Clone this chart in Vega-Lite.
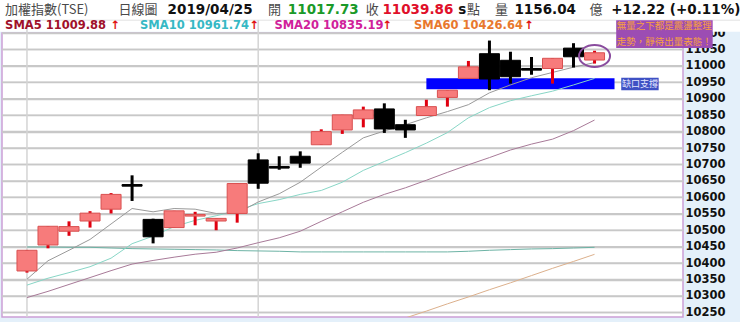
{
  "$schema": "https://vega.github.io/schema/vega-lite/v6.json",
  "width": 681,
  "height": 284,
  "autosize": {"type": "none"},
  "padding": {"left": 2, "top": 33, "right": 57, "bottom": 5},
  "background": "#e4f0fa",
  "config": {
    "view": {"stroke": "#cc9fd6", "strokeWidth": 1.5, "fill": "#ffffff"},
    "axisY": {"grid": true, "gridColor": "#c8c8c8", "gridWidth": 1.5, "gridOpacity": 1, "ticks": false, "domain": false, "labelFont": "DejaVu Sans", "labelFontWeight": "bold", "labelFontSize": 11.5, "labelColor": "#111111", "labelPadding": 2, "labelAlign": "left", "labelBaseline": "middle", "labelOverlap": false, "labelFlush": false, "labelBound": false, "labelSeparation": 0}
  },
  "datasets": {
    "kline": [
      {"i": 1, "open": 10376, "high": 10439, "low": 10371, "close": 10439, "sma5": 10351, "sma10": 10333, "sma20": 10295, "sma60": null, "malong": 10449},
      {"i": 2, "open": 10455, "high": 10512, "low": 10445, "close": 10512, "sma5": 10407, "sma10": 10354, "sma20": 10314, "sma60": null, "malong": 10449},
      {"i": 3, "open": 10497, "high": 10527, "low": 10483, "close": 10511, "sma5": 10439, "sma10": 10371, "sma20": 10335, "sma60": null, "malong": 10448},
      {"i": 4, "open": 10528, "high": 10558, "low": 10508, "close": 10552, "sma5": 10472, "sma10": 10389, "sma20": 10356, "sma60": null, "malong": 10448},
      {"i": 5, "open": 10564, "high": 10613, "low": 10551, "close": 10609, "sma5": 10519, "sma10": 10415, "sma20": 10377, "sma60": null, "malong": 10446},
      {"i": 6, "open": 10639, "high": 10667, "low": 10589, "close": 10634, "sma5": 10566, "sma10": 10459, "sma20": 10397, "sma60": null, "malong": 10444},
      {"i": 7, "open": 10533, "high": 10535, "low": 10460, "close": 10480, "sma5": 10556, "sma10": 10482, "sma20": 10408, "sma60": null, "malong": 10443},
      {"i": 8, "open": 10508, "high": 10559, "low": 10508, "close": 10559, "sma5": 10566, "sma10": 10511, "sma20": 10418, "sma60": null, "malong": 10442},
      {"i": 9, "open": 10543, "high": 10556, "low": 10515, "close": 10548, "sma5": 10564, "sma10": 10530, "sma20": 10427, "sma60": null, "malong": 10441},
      {"i": 10, "open": 10528, "high": 10536, "low": 10500, "close": 10536, "sma5": 10551, "sma10": 10544, "sma20": 10433, "sma60": null, "malong": 10440},
      {"i": 11, "open": 10551, "high": 10642, "low": 10523, "close": 10642, "sma5": 10552, "sma10": 10560, "sma20": 10446, "sma60": null, "malong": 10438},
      {"i": 12, "open": 10714, "high": 10734, "low": 10626, "close": 10643, "sma5": 10586, "sma10": 10581, "sma20": 10462, "sma60": null, "malong": 10437},
      {"i": 13, "open": 10694, "high": 10725, "low": 10684, "close": 10689, "sma5": 10611, "sma10": 10593, "sma20": 10477, "sma60": null, "malong": 10436},
      {"i": 14, "open": 10725, "high": 10740, "low": 10690, "close": 10704, "sma5": 10646, "sma10": 10609, "sma20": 10497, "sma60": null, "malong": 10434},
      {"i": 15, "open": 10760, "high": 10807, "low": 10760, "close": 10800, "sma5": 10692, "sma10": 10621, "sma20": 10527, "sma60": null, "malong": 10434},
      {"i": 16, "open": 10805, "high": 10851, "low": 10793, "close": 10851, "sma5": 10737, "sma10": 10646, "sma20": 10556, "sma60": null, "malong": 10434},
      {"i": 17, "open": 10839, "high": 10876, "low": 10813, "close": 10866, "sma5": 10781, "sma10": 10682, "sma20": 10585, "sma60": null, "malong": 10434},
      {"i": 18, "open": 10869, "high": 10886, "low": 10796, "close": 10808, "sma5": 10802, "sma10": 10709, "sma20": 10609, "sma60": 10212, "malong": 10434},
      {"i": 19, "open": 10821, "high": 10836, "low": 10781, "close": 10805, "sma5": 10821, "sma10": 10736, "sma20": 10629, "sma60": 10233, "malong": 10434},
      {"i": 20, "open": 10849, "high": 10897, "low": 10849, "close": 10876, "sma5": 10842, "sma10": 10765, "sma20": 10652, "sma60": 10254, "malong": 10434},
      {"i": 21, "open": 10904, "high": 10926, "low": 10876, "close": 10926, "sma5": 10861, "sma10": 10797, "sma20": 10676, "sma60": 10276, "malong": 10434},
      {"i": 22, "open": 10962, "high": 11015, "low": 10962, "close": 10997, "sma5": 10882, "sma10": 10842, "sma20": 10699, "sma60": 10297, "malong": 10436},
      {"i": 23, "open": 11037, "high": 11077, "low": 10926, "close": 10960, "sma5": 10918, "sma10": 10873, "sma20": 10721, "sma60": 10319, "malong": 10439},
      {"i": 24, "open": 11017, "high": 11043, "low": 10946, "close": 10967, "sma5": 10942, "sma10": 10894, "sma20": 10744, "sma60": 10340, "malong": 10441},
      {"i": 25, "open": 10992, "high": 11027, "low": 10973, "close": 10987, "sma5": 10964, "sma10": 10909, "sma20": 10762, "sma60": 10362, "malong": 10443},
      {"i": 26, "open": 10992, "high": 11023, "low": 10946, "close": 11023, "sma5": 10980, "sma10": 10923, "sma20": 10777, "sma60": 10384, "malong": 10444},
      {"i": 27, "open": 11054, "high": 11069, "low": 10995, "close": 11027.64, "sma5": 10996, "sma10": 10942, "sma20": 10803, "sma60": 10405, "malong": 10446},
      {"i": 28, "open": 11017.73, "high": 11046, "low": 11007, "close": 11039.86, "sma5": 11009.88, "sma10": 10961.74, "sma20": 10835.19, "sma60": 10426.64, "malong": 10448}
    ],
    "months": [{"i": 1}, {"i": 12}],
    "levels": [{"level": 10250}, {"level": 10300}, {"level": 10350}, {"level": 10400}, {"level": 10450}, {"level": 10500}, {"level": 10550}, {"level": 10600}, {"level": 10650}, {"level": 10700}, {"level": 10750}, {"level": 10800}, {"level": 10850}, {"level": 10900}, {"level": 10950}, {"level": 11000}, {"level": 11050}, {"level": 11100}],
    "one": [{}]
  },
  "layer": [
    {
      "data": {"name": "one"},
      "mark": {"type": "rect", "fill": "#ffffff", "clip": false},
      "encoding": {
        "x": {"datum": -1, "type": "quantitative", "scale": {"domain": [0.05, 31.97], "nice": false, "zero": false}, "axis": null},
        "x2": {"datum": 40},
        "y": {"datum": 11104, "type": "quantitative", "scale": {"domain": [10236, 11100], "nice": false, "zero": false}, "axis": {"orient": "right", "title": null, "values": [10250, 10300, 10350, 10400, 10450, 10500, 10550, 10600, 10650, 10700, 10750, 10800, 10850, 10900, 10950, 11000, 11050, 11100], "format": "d", "grid": true, "labelOverlap": false}},
        "y2": {"datum": 11300}
      }
    },
    {
      "data": {"name": "one"},
      "mark": {"type": "rule", "stroke": "#e2e2e2", "strokeWidth": 1, "clip": false},
      "encoding": {
        "x": {"datum": 0.05, "type": "quantitative", "scale": {"domain": [0.05, 31.97], "nice": false, "zero": false}, "axis": null},
        "x2": {"datum": 40},
        "y": {"datum": 11139, "type": "quantitative", "scale": {"domain": [10236, 11100], "nice": false, "zero": false}, "axis": {"orient": "right", "title": null, "values": [10250, 10300, 10350, 10400, 10450, 10500, 10550, 10600, 10650, 10700, 10750, 10800, 10850, 10900, 10950, 11000, 11050, 11100], "format": "d", "grid": true, "labelOverlap": false}}
      }
    },
    {
      "data": {"name": "levels"},
      "mark": {"type": "rule", "color": "#c8c8c8", "strokeWidth": 1.5, "opacity": 1},
      "encoding": {
        "y": {"field": "level", "type": "quantitative", "scale": {"domain": [10236, 11100], "nice": false, "zero": false}, "axis": {"orient": "right", "title": null, "values": [10250, 10300, 10350, 10400, 10450, 10500, 10550, 10600, 10650, 10700, 10750, 10800, 10850, 10900, 10950, 11000, 11050, 11100], "format": "d", "grid": true, "labelOverlap": false}}
      }
    },
    {
      "data": {"name": "months"},
      "mark": {"type": "rule", "stroke": "#d4d4d4", "strokeWidth": 1.5, "clip": false},
      "encoding": {
        "x": {"field": "i", "type": "quantitative", "scale": {"domain": [0.05, 31.97], "nice": false, "zero": false}, "axis": null},
        "y": {"datum": 11139, "type": "quantitative", "scale": {"domain": [10236, 11100], "nice": false, "zero": false}, "axis": {"orient": "right", "title": null, "values": [10250, 10300, 10350, 10400, 10450, 10500, 10550, 10600, 10650, 10700, 10750, 10800, 10850, 10900, 10950, 11000, 11050, 11100], "format": "d", "grid": true, "labelOverlap": false}},
        "y2": {"datum": 10236}
      }
    },
    {
      "data": {"name": "one"},
      "mark": {"type": "rect", "fill": "#0000ff"},
      "encoding": {
        "x": {"datum": 20.0, "type": "quantitative", "scale": {"domain": [0.05, 31.97], "nice": false, "zero": false}, "axis": null},
        "x2": {"datum": 28.95},
        "y": {"datum": 10929, "type": "quantitative", "scale": {"domain": [10236, 11100], "nice": false, "zero": false}, "axis": {"orient": "right", "title": null, "values": [10250, 10300, 10350, 10400, 10450, 10500, 10550, 10600, 10650, 10700, 10750, 10800, 10850, 10900, 10950, 11000, 11050, 11100], "format": "d", "grid": true, "labelOverlap": false}},
        "y2": {"datum": 10962}
      }
    },
    {
      "data": {"name": "kline"},
      "mark": {"type": "line", "stroke": "#6db3a5", "strokeWidth": 1, "clip": true},
      "encoding": {
        "x": {"field": "i", "type": "quantitative", "scale": {"domain": [0.05, 31.97], "nice": false, "zero": false}, "axis": null},
        "y": {"field": "malong", "type": "quantitative", "scale": {"domain": [10236, 11100], "nice": false, "zero": false}, "axis": {"orient": "right", "title": null, "values": [10250, 10300, 10350, 10400, 10450, 10500, 10550, 10600, 10650, 10700, 10750, 10800, 10850, 10900, 10950, 11000, 11050, 11100], "format": "d", "grid": true, "labelOverlap": false}}
      }
    },
    {
      "data": {"name": "kline"},
      "mark": {"type": "line", "stroke": "#dcb08c", "strokeWidth": 1, "clip": true},
      "encoding": {
        "x": {"field": "i", "type": "quantitative", "scale": {"domain": [0.05, 31.97], "nice": false, "zero": false}, "axis": null},
        "y": {"field": "sma60", "type": "quantitative", "scale": {"domain": [10236, 11100], "nice": false, "zero": false}, "axis": {"orient": "right", "title": null, "values": [10250, 10300, 10350, 10400, 10450, 10500, 10550, 10600, 10650, 10700, 10750, 10800, 10850, 10900, 10950, 11000, 11050, 11100], "format": "d", "grid": true, "labelOverlap": false}}
      }
    },
    {
      "data": {"name": "kline"},
      "mark": {"type": "line", "stroke": "#a87a98", "strokeWidth": 1, "clip": true},
      "encoding": {
        "x": {"field": "i", "type": "quantitative", "scale": {"domain": [0.05, 31.97], "nice": false, "zero": false}, "axis": null},
        "y": {"field": "sma20", "type": "quantitative", "scale": {"domain": [10236, 11100], "nice": false, "zero": false}, "axis": {"orient": "right", "title": null, "values": [10250, 10300, 10350, 10400, 10450, 10500, 10550, 10600, 10650, 10700, 10750, 10800, 10850, 10900, 10950, 11000, 11050, 11100], "format": "d", "grid": true, "labelOverlap": false}}
      }
    },
    {
      "data": {"name": "kline"},
      "mark": {"type": "line", "stroke": "#88d6c6", "strokeWidth": 1, "clip": true},
      "encoding": {
        "x": {"field": "i", "type": "quantitative", "scale": {"domain": [0.05, 31.97], "nice": false, "zero": false}, "axis": null},
        "y": {"field": "sma10", "type": "quantitative", "scale": {"domain": [10236, 11100], "nice": false, "zero": false}, "axis": {"orient": "right", "title": null, "values": [10250, 10300, 10350, 10400, 10450, 10500, 10550, 10600, 10650, 10700, 10750, 10800, 10850, 10900, 10950, 11000, 11050, 11100], "format": "d", "grid": true, "labelOverlap": false}}
      }
    },
    {
      "data": {"name": "kline"},
      "mark": {"type": "line", "stroke": "#9a9a9a", "strokeWidth": 1, "clip": true},
      "encoding": {
        "x": {"field": "i", "type": "quantitative", "scale": {"domain": [0.05, 31.97], "nice": false, "zero": false}, "axis": null},
        "y": {"field": "sma5", "type": "quantitative", "scale": {"domain": [10236, 11100], "nice": false, "zero": false}, "axis": {"orient": "right", "title": null, "values": [10250, 10300, 10350, 10400, 10450, 10500, 10550, 10600, 10650, 10700, 10750, 10800, 10850, 10900, 10950, 11000, 11050, 11100], "format": "d", "grid": true, "labelOverlap": false}}
      }
    },
    {
      "data": {"name": "kline"},
      "mark": {"type": "rule", "strokeWidth": 3},
      "encoding": {
        "x": {"field": "i", "type": "quantitative", "scale": {"domain": [0.05, 31.97], "nice": false, "zero": false}, "axis": null},
        "y": {"field": "low", "type": "quantitative", "scale": {"domain": [10236, 11100], "nice": false, "zero": false}, "axis": {"orient": "right", "title": null, "values": [10250, 10300, 10350, 10400, 10450, 10500, 10550, 10600, 10650, 10700, 10750, 10800, 10850, 10900, 10950, 11000, 11050, 11100], "format": "d", "grid": true, "labelOverlap": false}},
        "y2": {"field": "high"},
        "color": {"condition": {"test": "datum.close > datum.open", "value": "#e00010"}, "value": "#000000"}
      }
    },
    {
      "data": {"name": "kline"},
      "mark": {"type": "bar", "size": 20, "strokeWidth": 1},
      "encoding": {
        "x": {"field": "i", "type": "quantitative", "scale": {"domain": [0.05, 31.97], "nice": false, "zero": false}, "axis": null},
        "y": {"field": "open", "type": "quantitative", "scale": {"domain": [10236, 11100], "nice": false, "zero": false}, "axis": {"orient": "right", "title": null, "values": [10250, 10300, 10350, 10400, 10450, 10500, 10550, 10600, 10650, 10700, 10750, 10800, 10850, 10900, 10950, 11000, 11050, 11100], "format": "d", "grid": true, "labelOverlap": false}},
        "y2": {"field": "close"},
        "fill": {"condition": {"test": "datum.close > datum.open", "value": "#f77b7b"}, "value": "#000000"},
        "stroke": {"condition": {"test": "datum.close > datum.open", "value": "#d95050"}, "value": "#000000"}
      }
    },
    {
      "data": {"name": "one"},
      "mark": {"type": "point", "shape": "M-1,0A1,0.71,0,1,1,1,0A1,0.71,0,1,1,-1,0Z", "size": 961, "filled": false, "stroke": "#8a4c9e", "strokeWidth": 2, "opacity": 1},
      "encoding": {
        "x": {"datum": 28, "type": "quantitative", "scale": {"domain": [0.05, 31.97], "nice": false, "zero": false}, "axis": null},
        "y": {"datum": 11030, "type": "quantitative", "scale": {"domain": [10236, 11100], "nice": false, "zero": false}, "axis": {"orient": "right", "title": null, "values": [10250, 10300, 10350, 10400, 10450, 10500, 10550, 10600, 10650, 10700, 10750, 10800, 10850, 10900, 10950, 11000, 11050, 11100], "format": "d", "grid": true, "labelOverlap": false}}
      }
    },
    {
      "data": {"name": "one"},
      "mark": {"type": "rect", "fill": "#9c4db3", "clip": false},
      "encoding": {
        "x": {"datum": 29.03, "type": "quantitative", "scale": {"domain": [0.05, 31.97], "nice": false, "zero": false}, "axis": null},
        "x2": {"datum": 33.62},
        "y": {"datum": 11054, "type": "quantitative", "scale": {"domain": [10236, 11100], "nice": false, "zero": false}, "axis": {"orient": "right", "title": null, "values": [10250, 10300, 10350, 10400, 10450, 10500, 10550, 10600, 10650, 10700, 10750, 10800, 10850, 10900, 10950, 11000, 11050, 11100], "format": "d", "grid": true, "labelOverlap": false}},
        "y2": {"datum": 11139}
      }
    },
    {
      "data": {"name": "one"},
      "mark": {"type": "text", "text": "無量之下都是震盪整理", "font": "Noto Sans CJK TC", "fontSize": 9.5, "color": "#f7a040", "align": "center", "baseline": "middle"},
      "encoding": {
        "x": {"datum": 31.32, "type": "quantitative", "scale": {"domain": [0.05, 31.97], "nice": false, "zero": false}, "axis": null},
        "y": {"datum": 11122, "type": "quantitative", "scale": {"domain": [10236, 11100], "nice": false, "zero": false}, "axis": {"orient": "right", "title": null, "values": [10250, 10300, 10350, 10400, 10450, 10500, 10550, 10600, 10650, 10700, 10750, 10800, 10850, 10900, 10950, 11000, 11050, 11100], "format": "d", "grid": true, "labelOverlap": false}}
      }
    },
    {
      "data": {"name": "one"},
      "mark": {"type": "text", "text": "走勢，靜待出量表態！", "font": "Noto Sans CJK TC", "fontSize": 9.5, "color": "#f7a040", "align": "center", "baseline": "middle"},
      "encoding": {
        "x": {"datum": 31.32, "type": "quantitative", "scale": {"domain": [0.05, 31.97], "nice": false, "zero": false}, "axis": null},
        "y": {"datum": 11073, "type": "quantitative", "scale": {"domain": [10236, 11100], "nice": false, "zero": false}, "axis": {"orient": "right", "title": null, "values": [10250, 10300, 10350, 10400, 10450, 10500, 10550, 10600, 10650, 10700, 10750, 10800, 10850, 10900, 10950, 11000, 11050, 11100], "format": "d", "grid": true, "labelOverlap": false}}
      }
    },
    {
      "data": {"name": "one"},
      "mark": {"type": "rect", "fill": "#3f51c4", "clip": false},
      "encoding": {
        "x": {"datum": 29.27, "type": "quantitative", "scale": {"domain": [0.05, 31.97], "nice": false, "zero": false}, "axis": null},
        "x2": {"datum": 31.05},
        "y": {"datum": 10926, "type": "quantitative", "scale": {"domain": [10236, 11100], "nice": false, "zero": false}, "axis": {"orient": "right", "title": null, "values": [10250, 10300, 10350, 10400, 10450, 10500, 10550, 10600, 10650, 10700, 10750, 10800, 10850, 10900, 10950, 11000, 11050, 11100], "format": "d", "grid": true, "labelOverlap": false}},
        "y2": {"datum": 10964}
      }
    },
    {
      "data": {"name": "one"},
      "mark": {"type": "text", "text": "缺口支撐", "font": "Noto Sans CJK TC", "fontSize": 9, "color": "#e6e8ff", "align": "center", "baseline": "middle"},
      "encoding": {
        "x": {"datum": 30.16, "type": "quantitative", "scale": {"domain": [0.05, 31.97], "nice": false, "zero": false}, "axis": null},
        "y": {"datum": 10945, "type": "quantitative", "scale": {"domain": [10236, 11100], "nice": false, "zero": false}, "axis": {"orient": "right", "title": null, "values": [10250, 10300, 10350, 10400, 10450, 10500, 10550, 10600, 10650, 10700, 10750, 10800, 10850, 10900, 10950, 11000, 11050, 11100], "format": "d", "grid": true, "labelOverlap": false}}
      }
    },
    {
      "data": {"name": "one"},
      "layer": [
        {"mark": {"type": "text", "text": "加權指數(TSE)", "font": "Noto Sans CJK TC", "fontSize": 13, "color": "#4a4a4a", "align": "left", "baseline": "middle"}, "encoding": {"x": {"datum": -0.04}}},
        {"mark": {"type": "text", "text": "日線圖", "font": "Noto Sans CJK TC", "fontSize": 13, "color": "#4a4a4a", "align": "left", "baseline": "middle"}, "encoding": {"x": {"datum": 5.35}}},
        {"mark": {"type": "text", "text": "2019/04/25", "font": "DejaVu Sans", "fontWeight": "bold", "fontSize": 13.5, "color": "#111111", "align": "left", "baseline": "middle"}, "encoding": {"x": {"datum": 7.69}}},
        {"mark": {"type": "text", "text": "開", "font": "Noto Sans CJK TC", "fontSize": 13, "color": "#4a4a4a", "align": "left", "baseline": "middle"}, "encoding": {"x": {"datum": 12.47}}},
        {"mark": {"type": "text", "text": "11017.73", "font": "DejaVu Sans", "fontWeight": "bold", "fontSize": 13.5, "color": "#1a9a28", "align": "left", "baseline": "middle"}, "encoding": {"x": {"datum": 13.41}}},
        {"mark": {"type": "text", "text": "收", "font": "Noto Sans CJK TC", "fontSize": 13, "color": "#4a4a4a", "align": "left", "baseline": "middle"}, "encoding": {"x": {"datum": 17.12}}},
        {"mark": {"type": "text", "text": "11039.86", "font": "DejaVu Sans", "fontWeight": "bold", "fontSize": 13.5, "color": "#e0102a", "align": "left", "baseline": "middle"}, "encoding": {"x": {"datum": 17.91}}},
        {"mark": {"type": "text", "text": "s", "font": "DejaVu Sans", "fontWeight": "bold", "fontSize": 13.5, "color": "#111111", "align": "left", "baseline": "middle"}, "encoding": {"x": {"datum": 21.52}}},
        {"mark": {"type": "text", "text": "點", "font": "Noto Sans CJK TC", "fontSize": 13, "color": "#4a4a4a", "align": "left", "baseline": "middle"}, "encoding": {"x": {"datum": 21.93}}},
        {"mark": {"type": "text", "text": "量", "font": "Noto Sans CJK TC", "fontSize": 13, "color": "#4a4a4a", "align": "left", "baseline": "middle"}, "encoding": {"x": {"datum": 23.26}}},
        {"mark": {"type": "text", "text": "1156.04", "font": "DejaVu Sans", "fontWeight": "bold", "fontSize": 13.5, "color": "#111111", "align": "left", "baseline": "middle"}, "encoding": {"x": {"datum": 24.19}}},
        {"mark": {"type": "text", "text": "億", "font": "Noto Sans CJK TC", "fontSize": 13, "color": "#4a4a4a", "align": "left", "baseline": "middle"}, "encoding": {"x": {"datum": 27.76}}},
        {"mark": {"type": "text", "text": "+12.22 (+0.11%)", "font": "DejaVu Sans", "fontWeight": "bold", "fontSize": 13.5, "color": "#111111", "align": "left", "baseline": "middle"}, "encoding": {"x": {"datum": 28.79}}}
      ],
      "encoding": {
        "x": {"type": "quantitative", "scale": {"domain": [0.05, 31.97], "nice": false, "zero": false}, "axis": null},
        "y": {"datum": 11170, "type": "quantitative", "scale": {"domain": [10236, 11100], "nice": false, "zero": false}, "axis": {"orient": "right", "title": null, "values": [10250, 10300, 10350, 10400, 10450, 10500, 10550, 10600, 10650, 10700, 10750, 10800, 10850, 10900, 10950, 11000, 11050, 11100], "format": "d", "grid": true, "labelOverlap": false}}
      }
    },
    {
      "data": {"name": "one"},
      "layer": [
        {"mark": {"type": "text", "text": "SMA5 11009.88", "font": "DejaVu Sans", "fontWeight": "bold", "fontSize": 11.5, "color": "#a0102a", "align": "left", "baseline": "middle"}, "encoding": {"x": {"datum": -0.04}}},
        {"mark": {"type": "text", "text": "↑", "font": "DejaVu Sans", "fontWeight": "bold", "fontSize": 11.5, "color": "#e01010", "align": "left", "baseline": "middle"}, "encoding": {"x": {"datum": 4.97}}},
        {"mark": {"type": "text", "text": "SMA10 10961.74", "font": "DejaVu Sans", "fontWeight": "bold", "fontSize": 11.5, "color": "#36b8c4", "align": "left", "baseline": "middle"}, "encoding": {"x": {"datum": 6.38}}},
        {"mark": {"type": "text", "text": "↑", "font": "DejaVu Sans", "fontWeight": "bold", "fontSize": 11.5, "color": "#e01010", "align": "left", "baseline": "middle"}, "encoding": {"x": {"datum": 11.58}}},
        {"mark": {"type": "text", "text": "SMA20 10835.19", "font": "DejaVu Sans", "fontWeight": "bold", "fontSize": 11.5, "color": "#d0209a", "align": "left", "baseline": "middle"}, "encoding": {"x": {"datum": 12.77}}},
        {"mark": {"type": "text", "text": "↑", "font": "DejaVu Sans", "fontWeight": "bold", "fontSize": 11.5, "color": "#e01010", "align": "left", "baseline": "middle"}, "encoding": {"x": {"datum": 17.91}}},
        {"mark": {"type": "text", "text": "SMA60 10426.64", "font": "DejaVu Sans", "fontWeight": "bold", "fontSize": 11.5, "color": "#e8782e", "align": "left", "baseline": "middle"}, "encoding": {"x": {"datum": 19.41}}},
        {"mark": {"type": "text", "text": "↑", "font": "DejaVu Sans", "fontWeight": "bold", "fontSize": 11.5, "color": "#e01010", "align": "left", "baseline": "middle"}, "encoding": {"x": {"datum": 24.66}}}
      ],
      "encoding": {
        "x": {"type": "quantitative", "scale": {"domain": [0.05, 31.97], "nice": false, "zero": false}, "axis": null},
        "y": {"datum": 11121, "type": "quantitative", "scale": {"domain": [10236, 11100], "nice": false, "zero": false}, "axis": {"orient": "right", "title": null, "values": [10250, 10300, 10350, 10400, 10450, 10500, 10550, 10600, 10650, 10700, 10750, 10800, 10850, 10900, 10950, 11000, 11050, 11100], "format": "d", "grid": true, "labelOverlap": false}}
      }
    }
  ]
}
